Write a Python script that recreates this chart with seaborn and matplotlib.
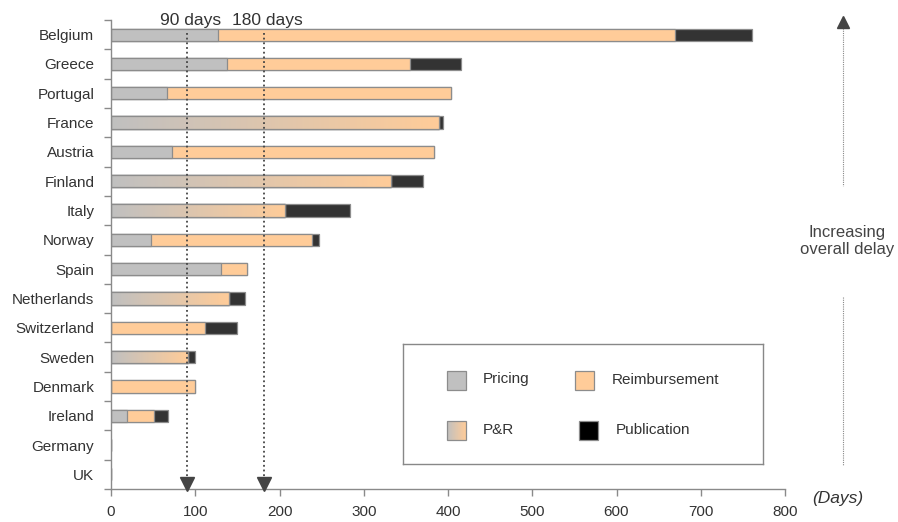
import numpy as np
import pandas as pd
import matplotlib
matplotlib.use("Agg")
import matplotlib.pyplot as plt
from matplotlib.colors import LinearSegmentedColormap
from matplotlib.patches import Rectangle
from matplotlib.lines import Line2D
import seaborn as sns

# Time to market access, split by stage (days)
countries = ["Belgium", "Greece", "Portugal", "France", "Austria", "Finland", "Italy",
             "Norway", "Spain", "Netherlands", "Switzerland", "Sweden", "Denmark",
             "Ireland", "Germany", "UK"]
pricing = [127, 138, 67, 0, 72, 0, 0, 47, 131, 0, 0, 0, 0, 19, 0, 0]
p_and_r = [0, 0, 0, 389, 0, 332, 207, 0, 0, 140, 0, 91, 0, 0, 0, 0]
reimbursement = [543, 217, 337, 0, 311, 0, 0, 192, 30, 0, 112, 0, 100, 32, 0, 0]
publication = [91, 61, 0, 5, 0, 38, 77, 8, 0, 19, 38, 9, 0, 17, 0, 0]
x_ticks = [0, 100, 200, 300, 400, 500, 600, 700, 800]
milestones = [90, 182]
milestone_labels = ["90 days", "180 days"]
legend_labels = ["Pricing", "Reimbursement", "P&R", "Publication"]

GREY = "#c0c0c0"
PEACH = "#ffcc99"
DARK = "#333333"
EDGE = "#8c8c8c"
TEXT = "#333333"
AXIS = "#8a8a8a"
BAR_W = 0.42

sns.set_theme(style="white")
plt.rcParams["font.family"] = ["Liberation Sans", "DejaVu Sans"]

df = pd.DataFrame({"country": countries, "pricing": pricing, "p_and_r": p_and_r,
                   "reimbursement": reimbursement, "publication": publication})
df["stage1"] = df["pricing"] + df["p_and_r"]
df["stage2"] = df["stage1"] + df["reimbursement"]
df["stage3"] = df["stage2"] + df["publication"]

fig = plt.figure(figsize=(8.98, 5.22), dpi=100)
ax = fig.add_axes([111 / 898, 1 - 489 / 522, 674 / 898, 469 / 522])

common = dict(y="country", orient="h", order=countries, width=BAR_W, saturation=1,
              errorbar=None, edgecolor=EDGE, linewidth=0.9, ax=ax)
sns.barplot(data=df, x="stage3", color=DARK, **common)
sns.barplot(data=df, x="stage2", color=PEACH, **common)
sns.barplot(data=df, x="stage1", color=GREY, **common)

# Combined pricing & reimbursement stage: grey-to-peach gradient
grad_cmap = LinearSegmentedColormap.from_list("pr", [GREY, PEACH])
gradient = np.linspace(0, 1, 256).reshape(1, -1)
stage1_patches = ax.patches[-len(countries):]
for i, row in df.iterrows():
    if row["p_and_r"] > 0:
        patch = stage1_patches[i]
        im = ax.imshow(gradient, cmap=grad_cmap, aspect="auto", zorder=1.5,
                       extent=(0, row["stage1"], i + BAR_W / 2, i - BAR_W / 2))
        im.set_clip_path(patch)
pr_rows = df[df["p_and_r"] > 0]
sns.barplot(data=pr_rows, x="stage1", y="country", orient="h", order=countries,
            width=BAR_W, errorbar=None, fill=False, color=EDGE, linewidth=0.9,
            zorder=2, ax=ax)

ax.set_xlim(0, 800)
ax.set_ylim(len(countries) - 0.5, -0.5)
ax.set_xlabel("")
ax.set_ylabel("")

# Axes styling
for side in ["top", "right"]:
    ax.spines[side].set_visible(False)
for side in ["left", "bottom"]:
    ax.spines[side].set_color(AXIS)
    ax.spines[side].set_linewidth(1.0)
ax.set_xticks(x_ticks)
ax.set_xticklabels([str(t) for t in x_ticks])
ax.tick_params(axis="x", direction="out", length=5, width=1, color=AXIS,
               labelsize=11, labelcolor=TEXT, pad=6.5, bottom=True)
ax.set_yticks(range(len(countries)))
ax.set_yticklabels(countries)
ax.tick_params(axis="y", length=0, labelsize=11, labelcolor=TEXT, pad=12, left=True)
ax.set_yticks(np.arange(-0.5, len(countries), 1), minor=True)
ax.tick_params(axis="y", which="minor", direction="out", length=5, width=1,
               color=AXIS, left=True)

# 90 / 180 day milestones
for m, lab in zip(milestones, milestone_labels):
    ax.plot([m, m], [0.972, 0.025], transform=ax.get_xaxis_transform(),
            color="#444444", lw=1.3, linestyle=(0, (1, 1.6)), clip_on=False, zorder=4)
    ax.plot([m], [0.011], transform=ax.get_xaxis_transform(), marker="v",
            markersize=10, color="#444444", clip_on=False, zorder=4)
    ax.text(m + 4, 1.0, lab, transform=ax.get_xaxis_transform(), ha="center",
            va="center", fontsize=12.5, color=TEXT)

# Overall delay indicator on the right
ax_x = 843 / 898
fig.add_artist(Line2D([ax_x, ax_x], [1 - 28 / 522, 1 - 186 / 522], color="#888888",
                      lw=0.8, linestyle=(0, (1, 1))))
fig.add_artist(Line2D([ax_x, ax_x], [1 - 297 / 522, 1 - 465 / 522], color="#888888",
                      lw=0.8, linestyle=(0, (1, 1))))
fig.add_artist(Line2D([ax_x], [1 - 22 / 522], marker="^", markersize=8, color="#444444"))
fig.text(847 / 898, 1 - 241 / 522, "Increasing\noverall delay", ha="center",
         va="center", fontsize=12, color="#444444", linespacing=1.1)
fig.text(838 / 898, 1 - 499 / 522, "(Days)", ha="center", va="center", fontsize=12.5,
         style="italic", color=TEXT)

# Legend panel
lax = fig.add_axes([403 / 898, 1 - 464 / 522, 360 / 898, 120 / 522])
lax.set_xticks([])
lax.set_yticks([])
lax.set_facecolor("white")
for s in lax.spines.values():
    s.set_color("#888888")
    s.set_linewidth(1.0)
sw_w, sw_h = 19 / 360, 19 / 120
swatches = [(44 / 360, 0.62, GREY), (172 / 360, 0.62, PEACH),
            (44 / 360, 0.20, None), (176 / 360, 0.20, "#000000")]
text_x = [80 / 360, 209 / 360, 80 / 360, 213 / 360]
for (sx, sy, col), tx, lab in zip(swatches, text_x, legend_labels):
    if col is None:
        lax.imshow(gradient, cmap=grad_cmap, aspect="auto",
                   extent=(sx, sx + sw_w, sy, sy + sw_h), zorder=1)
        lax.add_patch(Rectangle((sx, sy), sw_w, sw_h, fill=False, edgecolor=EDGE,
                                lw=0.9, zorder=2))
    else:
        lax.add_patch(Rectangle((sx, sy), sw_w, sw_h, facecolor=col, edgecolor=EDGE,
                                lw=0.9))
    lax.text(tx, sy + sw_h / 2 + 0.005, lab, ha="left", va="center", fontsize=11,
             color=TEXT)
lax.set_xlim(0, 1)
lax.set_ylim(0, 1)

fig.savefig("out.png", dpi=100)
